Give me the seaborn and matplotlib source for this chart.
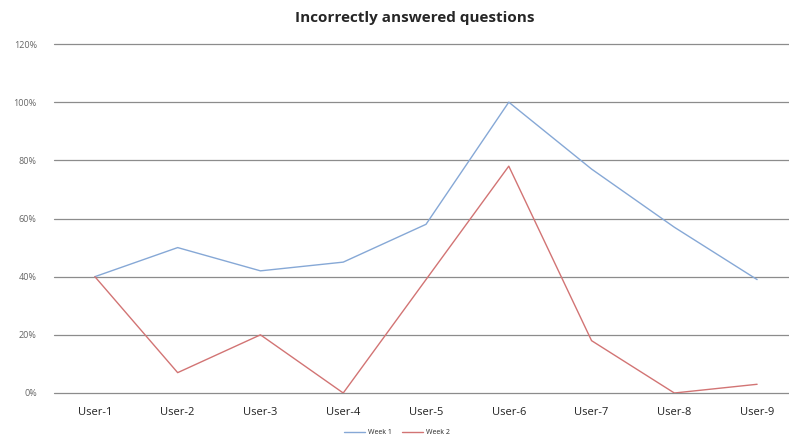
import seaborn as sns
import matplotlib.pyplot as plt
import pandas as pd
from matplotlib.ticker import PercentFormatter

users = ['User-1', 'User-2', 'User-3', 'User-4', 'User-5', 'User-6', 'User-7', 'User-8', 'User-9']
week1 = [40, 50, 42, 45, 58, 100, 77, 57, 39]
week2 = [40, 7, 20, 0, 39, 78, 18, 0, 3]

df = pd.DataFrame({
    'user': users * 2,
    'value': week1 + week2,
    'week': ['Week 1'] * len(users) + ['Week 2'] * len(users),
})
df['pos'] = df['user'].map({u: i for i, u in enumerate(users)})

sns.set_style('white')
plt.rcParams['font.family'] = ['Open Sans', 'DejaVu Sans']

fig = plt.figure(figsize=(7.89, 4.38), dpi=100)
ax = fig.add_axes([53.5 / 789, 1 - 393 / 438, 745 / 789, 349 / 438])

sns.lineplot(data=df, x='pos', y='value', hue='week',
             palette={'Week 1': '#86a8d6', 'Week 2': '#d27474'},
             linewidth=1.0, ax=ax, legend=True)

ax.set_xlim(-0.5, len(users) - 0.5)
ax.set_ylim(0, 120)
ax.set_yticks(range(0, 121, 20))
ax.yaxis.set_major_formatter(PercentFormatter(decimals=0))
ax.set_xticks(range(len(users)))
ax.set_xticklabels(users)
ax.grid(axis='y', color='#8c8c8c', linewidth=0.9)
for gl in ax.get_ygridlines():
    gl.set_clip_on(False)
ax.set_axisbelow(True)
for s in ax.spines.values():
    s.set_visible(False)
ax.tick_params(axis='x', labelsize=8, colors='#222222', length=0, pad=10)
ax.tick_params(axis='y', labelsize=6.5, colors='#666666', length=0, pad=12)
ax.set_xlabel('')
ax.set_ylabel('')

fig.suptitle('Incorrectly answered questions', x=415 / 789, y=1 - 18 / 438,
             va='center', fontsize=11, fontweight='bold')

handles, labels = ax.get_legend_handles_labels()
ax.legend(handles, labels, loc='center', bbox_to_anchor=(397 / 789, 5 / 438),
          bbox_transform=fig.transFigure, ncol=2, frameon=False, fontsize=5,
          handlelength=3, columnspacing=1.5, handletextpad=0.4)

fig.savefig('out.png', dpi=100)
